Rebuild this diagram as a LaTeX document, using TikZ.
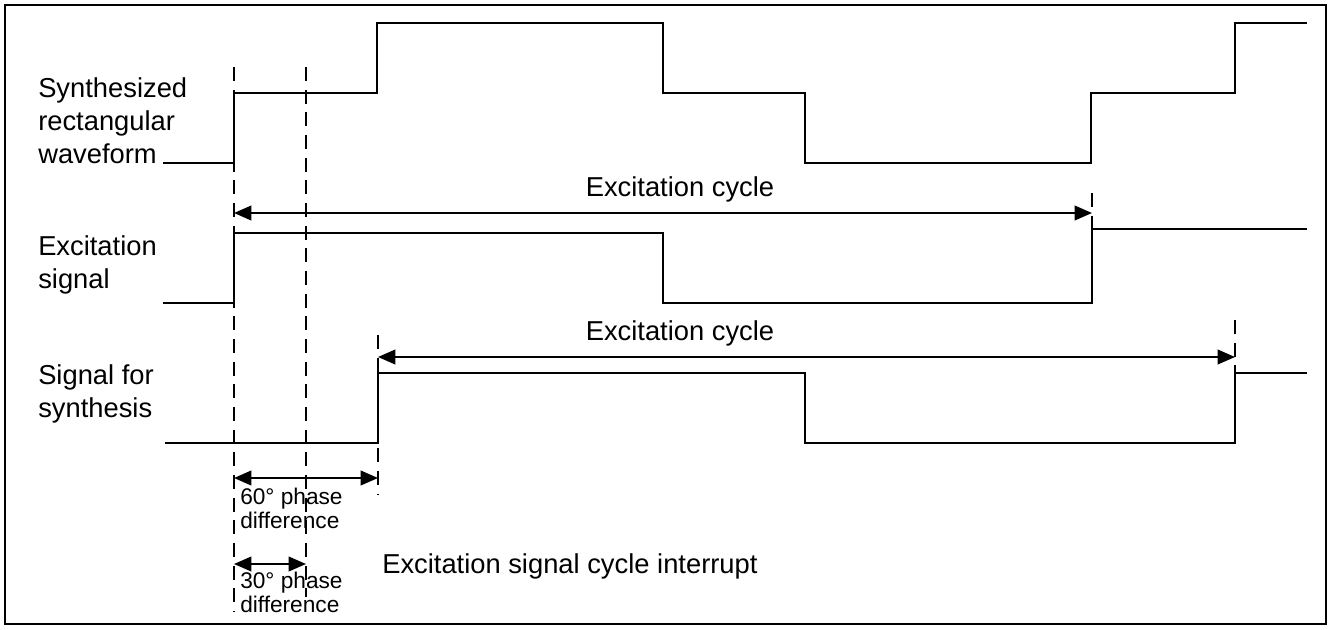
\documentclass[tikz,border=0pt]{standalone}
\usepackage{fontspec}
\setmainfont{Liberation Sans}
\usetikzlibrary{arrows.meta}
\begin{document}
\begin{tikzpicture}[x=0.75pt,y=-0.75pt,
  wave/.style={line width=1.8pt, line join=miter},
  frame/.style={line width=1.8pt},
  guide/.style={line width=1.2pt, dash pattern=on 10.5pt off 6.5pt},
  dim/.style={line width=1.3pt, {Triangle[length=13pt,width=11pt]}-{Triangle[length=13pt,width=11pt]}},
  big/.style={font=\fontsize{20.5}{24.4}\selectfont, inner sep=0pt, align=left},
  small/.style={font=\fontsize{17}{18}\selectfont, inner sep=0pt, align=left}]
\useasboundingbox (0,0) rectangle (1328,629);
\draw[frame] (5,5) rectangle (1326,624);

% key coordinates
\coordinate (g1t) at (234,67);  \coordinate (g1b) at (234,612);
\coordinate (g2t) at (306,67);  \coordinate (g2b) at (306,597);
\coordinate (g3t) at (378,335); \coordinate (g3b) at (378,495);
\coordinate (g4t) at (1092,193); \coordinate (g4b) at (1092,229);
\coordinate (g5t) at (1235,320); \coordinate (g5b) at (1235,373);

% guides
\draw[guide] (g1t) -- (g1b);
\draw[guide] (g2t) -- (g2b);
\draw[guide] (g3t) -- (g3b);
\draw[guide] (g4t) -- (g4b);
\draw[guide] (g5t) -- (g5b);

% waveforms
\draw[wave] (163,163) -- (234,163) -- (234,93) -- (377,93) -- (377,23) -- (663,23) -- (663,93)
  -- (805,93) -- (805,163) -- (1091,163) -- (1091,93) -- (1235,93) -- (1235,23) -- (1307,23);
\draw[wave] (163,303) -- (234,303) -- (234,233) -- (663,233) -- (663,303) -- (1092,303)
  -- (1092,229) -- (1307,229);
\draw[wave] (165,443) -- (378,443) -- (378,373) -- (805,373) -- (805,443) -- (1235,443)
  -- (1235,373) -- (1307,373);

% dimension arrows
\coordinate (c1l) at (234,213); \coordinate (c1r) at (1092,213);
\coordinate (c2l) at (378,357); \coordinate (c2r) at (1235,357);
\coordinate (p6l) at (234,478); \coordinate (p6r) at (378,478);
\coordinate (p3l) at (234,564); \coordinate (p3r) at (306,564);
\draw[dim] (c1l) -- (c1r);
\draw[dim] (c2l) -- (c2r);
\draw[dim] (p6l) -- (p6r);
\draw[dim] (p3l) -- (p3r);

% labels (base anchor = baseline of last line)
\node[big, anchor=base west] (l1) at (38,163) {Synthesized\\rectangular\\waveform};
\node[big, anchor=base west] (l2) at (38,288) {Excitation\\signal};
\node[big, anchor=base west] (l3) at (38,417) {Signal for\\synthesis};
\node[big, anchor=base] (t1) at (680,196) {Excitation cycle};
\node[big, anchor=base] (t2) at (680,340) {Excitation cycle};
\node[small, anchor=base west] (t3) at (240,528) {60° phase\\difference};
\node[small, anchor=base west] (t4) at (240,612) {30° phase\\difference};
\node[big, anchor=base west] (t5) at (382,573) {Excitation signal cycle interrupt};
\end{tikzpicture}
\end{document}
